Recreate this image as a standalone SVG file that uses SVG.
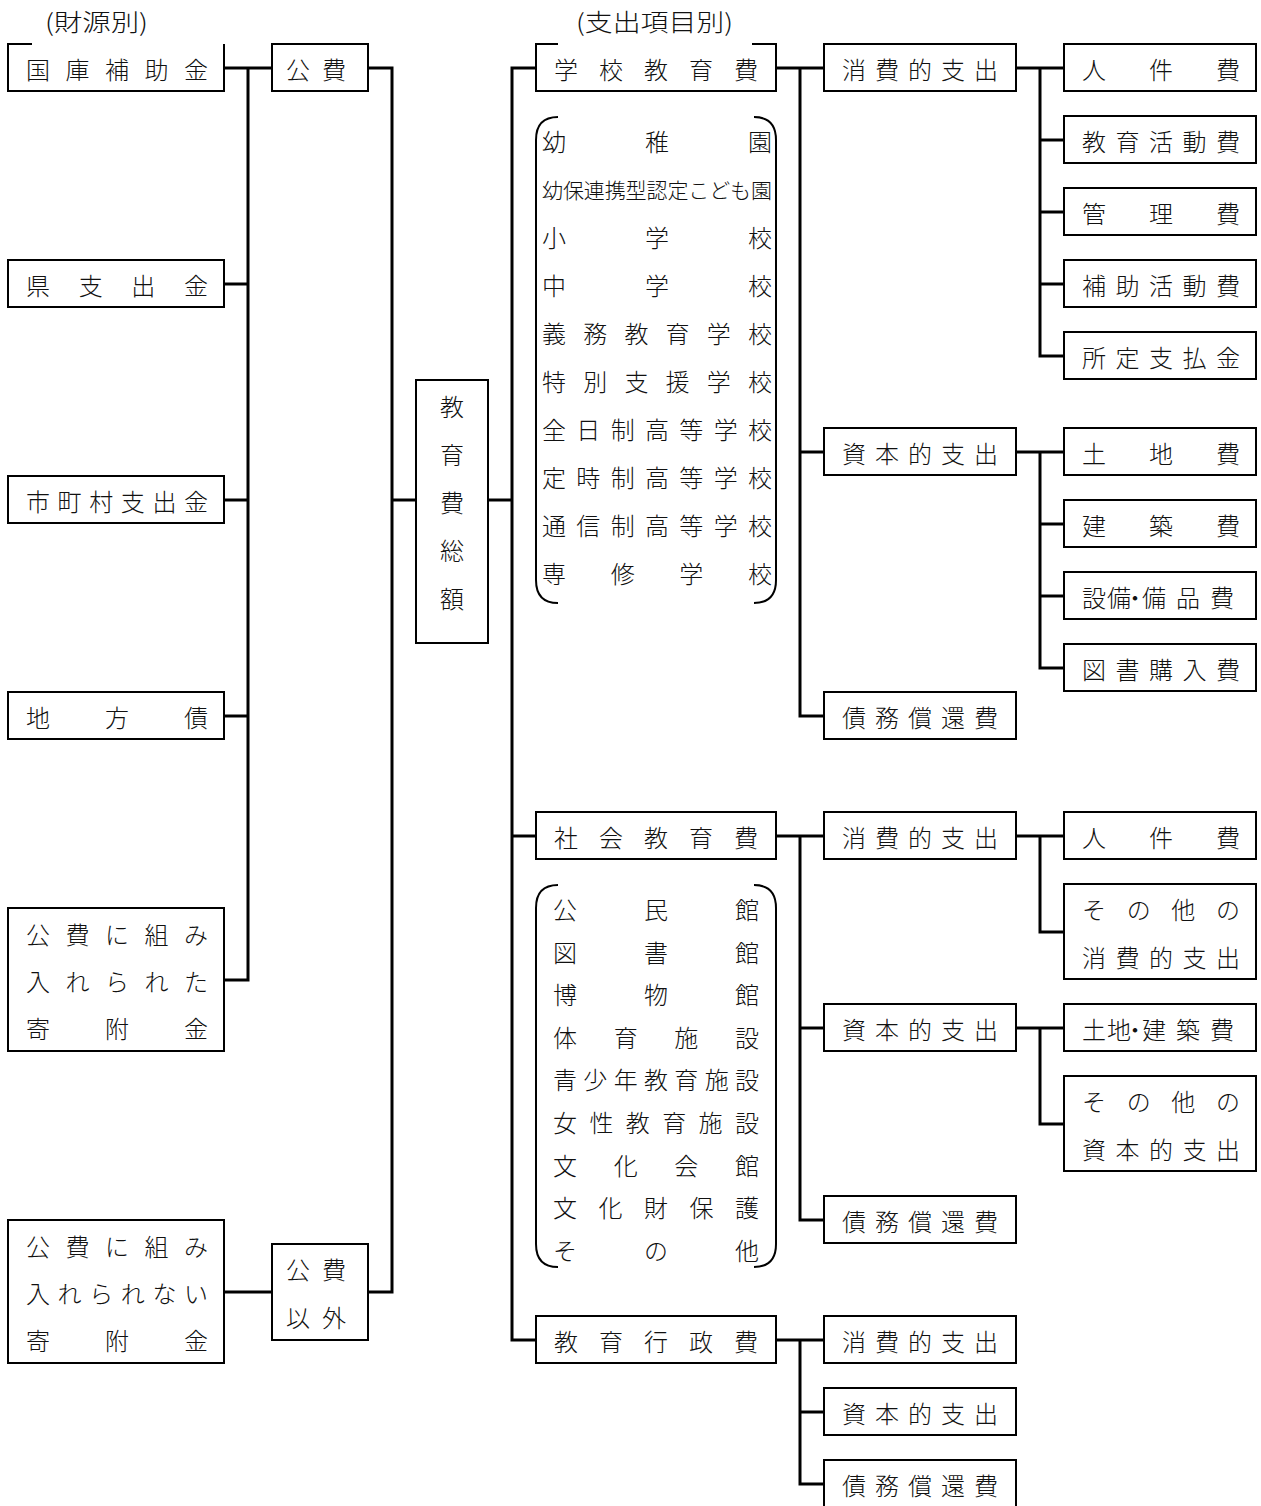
<svg xmlns="http://www.w3.org/2000/svg" width="1261" height="1506" viewBox="0 0 1261 1506">
<style>
  text { font-family: "Noto Sans CJK JP", "Noto Sans CJK SC", sans-serif; font-size: 24px; font-weight: 300; fill: #111; }
  .box { fill: #fff; stroke: #000; stroke-width: 2; }
  .open { fill: none; stroke: #000; stroke-width: 2; }
  .conn path { fill: none; stroke: #000; stroke-width: 3; stroke-linejoin: miter; }
  .small { font-size: 21px; }
</style>
<rect width="1261" height="1506" fill="#fff"/>

<g class="conn" id="connectors">
  <path d="M224,68 H272"/>
  <path d="M248,68 V980 H224"/>
  <path d="M224,284 H248"/>
  <path d="M224,500 H248"/>
  <path d="M224,716 H248"/>
  <path d="M368,68 H392 V1292 H368"/>
  <path d="M224,1292 H272"/>
  <path d="M392,500 H416"/>
  <path d="M488,500 H512"/>
  <path d="M536,68 H512 V1340 H536"/>
  <path d="M512,836 H536"/>
  <path d="M776,68 H824"/>
  <path d="M800,68 V716 H824"/>
  <path d="M800,452 H824"/>
  <path d="M1016,68 H1064"/>
  <path d="M1040,68 V356 H1064"/>
  <path d="M1040,140 H1064"/>
  <path d="M1040,212 H1064"/>
  <path d="M1040,284 H1064"/>
  <path d="M1016,452 H1064"/>
  <path d="M1040,452 V668 H1064"/>
  <path d="M1040,524 H1064"/>
  <path d="M1040,596 H1064"/>
  <path d="M776,836 H824"/>
  <path d="M800,836 V1220 H824"/>
  <path d="M800,1028 H824"/>
  <path d="M1016,836 H1064"/>
  <path d="M1040,836 V932 H1064"/>
  <path d="M1016,1028 H1064"/>
  <path d="M1040,1028 V1124 H1064"/>
  <path d="M776,1340 H824"/>
  <path d="M800,1340 V1484 H824"/>
  <path d="M800,1412 H824"/>
</g>

<g id="headers">
  <text x="45" y="31" textLength="103" lengthAdjust="spacingAndGlyphs">(財源別)</text>
  <text x="576" y="31" textLength="157" lengthAdjust="spacingAndGlyphs">(支出項目別)</text>
</g>

<!-- Left column: sources -->
<g id="n-kokko">
  <path class="open" d="M32,44 H8 V91 H224 V44"/>
  <text x="26 65.5 105 144.5 184" y="79">国庫補助金</text>
</g>
<g id="n-ken">
  <rect class="box" x="8" y="260" width="216" height="47"/>
  <text x="26 78.7 131.3 184" y="295">県支出金</text>
</g>
<g id="n-shichoson">
  <rect class="box" x="8" y="476" width="216" height="47"/>
  <text x="26 57.6 89.2 120.8 152.4 184" y="511">市町村支出金</text>
</g>
<g id="n-chihosai">
  <rect class="box" x="8" y="692" width="216" height="47"/>
  <text x="26 105 184" y="727">地方債</text>
</g>
<g id="n-kifu1">
  <rect class="box" x="8" y="908" width="216" height="143"/>
  <text x="26 65.5 105 144.5 184" y="944">公費に組み</text>
  <text x="26 65.5 105 144.5 184" y="991">入れられた</text>
  <text x="26 105 184" y="1038">寄附金</text>
</g>
<g id="n-kifu2">
  <rect class="box" x="8" y="1220" width="216" height="143"/>
  <text x="26 65.5 105 144.5 184" y="1256">公費に組み</text>
  <text x="26 57.6 89.2 120.8 152.4 184" y="1303">入れられない</text>
  <text x="26 105 184" y="1350">寄附金</text>
</g>

<g id="n-kohi">
  <rect class="box" x="272" y="44" width="96" height="47"/>
  <text x="286 322" y="79">公費</text>
</g>
<g id="n-kohiigai">
  <rect class="box" x="272" y="1244" width="96" height="96"/>
  <text x="286 322" y="1279">公費</text>
  <text x="286 322" y="1327">以外</text>
</g>

<g id="n-total">
  <rect class="box" x="416" y="380" width="72" height="263"/>
  <text x="452" y="416" text-anchor="middle">教</text>
  <text x="452" y="464" text-anchor="middle">育</text>
  <text x="452" y="512" text-anchor="middle">費</text>
  <text x="452" y="560" text-anchor="middle">総</text>
  <text x="452" y="608" text-anchor="middle">額</text>
</g>

<!-- Categories -->
<g id="n-gakko">
  <path class="open" d="M558,44 H536 V91 H776 V44 H752"/>
  <text x="554 599 644 689 734" y="79">学校教育費</text>
</g>
<g id="n-gakko-list">
  <path class="open" d="M558,117 Q536,117 536,140 V580 Q536,603 558,603"/>
  <path class="open" d="M754,117 Q776,117 776,140 V580 Q776,603 754,603"/>
  <text x="542 645 748" y="151">幼稚園</text>
  <text class="small" x="542 562.9 583.8 604.7 625.6 646.5 667.4 688.3 709.2 730.1 751" y="198">幼保連携型認定こども園</text>
  <text x="542 645 748" y="247">小学校</text>
  <text x="542 645 748" y="295">中学校</text>
  <text x="542 583.2 624.4 665.6 706.8 748" y="343">義務教育学校</text>
  <text x="542 583.2 624.4 665.6 706.8 748" y="391">特別支援学校</text>
  <text x="542 576.3 610.7 645 679.3 713.7 748" y="439">全日制高等学校</text>
  <text x="542 576.3 610.7 645 679.3 713.7 748" y="487">定時制高等学校</text>
  <text x="542 576.3 610.7 645 679.3 713.7 748" y="535">通信制高等学校</text>
  <text x="542 610.7 679.3 748" y="583">専修学校</text>
</g>

<g id="n-shakai">
  <rect class="box" x="536" y="812" width="240" height="47"/>
  <text x="554 599 644 689 734" y="847">社会教育費</text>
</g>
<g id="n-shakai-list">
  <path class="open" d="M558,885 Q536,885 536,908 V1244 Q536,1267 558,1267"/>
  <path class="open" d="M754,885 Q776,885 776,908 V1244 Q776,1267 754,1267"/>
  <text x="553 644 735" y="919">公民館</text>
  <text x="553 644 735" y="962">図書館</text>
  <text x="553 644 735" y="1004">博物館</text>
  <text x="553 613.7 674.3 735" y="1047">体育施設</text>
  <text x="553 583.3 613.7 644 674.3 704.7 735" y="1089">青少年教育施設</text>
  <text x="553 589.4 625.8 662.2 698.6 735" y="1132">女性教育施設</text>
  <text x="553 613.7 674.3 735" y="1175">文化会館</text>
  <text x="553 598.5 644 689.5 735" y="1217">文化財保護</text>
  <text x="553 644 735" y="1260">その他</text>
</g>

<g id="n-gyosei">
  <rect class="box" x="536" y="1316" width="240" height="47"/>
  <text x="554 599 644 689 734" y="1351">教育行政費</text>
</g>

<!-- Middle column -->
<g id="n-g-shohi">
  <rect class="box" x="824" y="44" width="192" height="47"/>
  <text x="842 875 908 941 974" y="79">消費的支出</text>
</g>
<g id="n-g-shihon">
  <rect class="box" x="824" y="428" width="192" height="47"/>
  <text x="842 875 908 941 974" y="463">資本的支出</text>
</g>
<g id="n-g-saimu">
  <rect class="box" x="824" y="692" width="192" height="47"/>
  <text x="842 875 908 941 974" y="727">債務償還費</text>
</g>
<g id="n-s-shohi">
  <rect class="box" x="824" y="812" width="192" height="47"/>
  <text x="842 875 908 941 974" y="847">消費的支出</text>
</g>
<g id="n-s-shihon">
  <rect class="box" x="824" y="1004" width="192" height="47"/>
  <text x="842 875 908 941 974" y="1039">資本的支出</text>
</g>
<g id="n-s-saimu">
  <rect class="box" x="824" y="1196" width="192" height="47"/>
  <text x="842 875 908 941 974" y="1231">債務償還費</text>
</g>
<g id="n-y-shohi">
  <rect class="box" x="824" y="1316" width="192" height="47"/>
  <text x="842 875 908 941 974" y="1351">消費的支出</text>
</g>
<g id="n-y-shihon">
  <rect class="box" x="824" y="1388" width="192" height="47"/>
  <text x="842 875 908 941 974" y="1423">資本的支出</text>
</g>
<g id="n-y-saimu">
  <rect class="box" x="824" y="1460" width="192" height="60"/>
  <text x="842 875 908 941 974" y="1495">債務償還費</text>
</g>

<!-- Right column -->
<g id="n-jinken1">
  <rect class="box" x="1064" y="44" width="192" height="47"/>
  <text x="1082 1149 1216" y="79">人件費</text>
</g>
<g id="n-kyoiku-katsudo">
  <rect class="box" x="1064" y="116" width="192" height="47"/>
  <text x="1082 1115.5 1149 1182.5 1216" y="151">教育活動費</text>
</g>
<g id="n-kanri">
  <rect class="box" x="1064" y="188" width="192" height="47"/>
  <text x="1082 1149 1216" y="223">管理費</text>
</g>
<g id="n-hojo">
  <rect class="box" x="1064" y="260" width="192" height="47"/>
  <text x="1082 1115.5 1149 1182.5 1216" y="295">補助活動費</text>
</g>
<g id="n-shotei">
  <rect class="box" x="1064" y="332" width="192" height="47"/>
  <text x="1082 1115.5 1149 1182.5 1216" y="367">所定支払金</text>
</g>
<g id="n-tochi">
  <rect class="box" x="1064" y="428" width="192" height="47"/>
  <text x="1082 1149 1216" y="463">土地費</text>
</g>
<g id="n-kenchiku">
  <rect class="box" x="1064" y="500" width="192" height="47"/>
  <text x="1082 1149 1216" y="535">建築費</text>
</g>
<g id="n-setsubi">
  <rect class="box" x="1064" y="572" width="192" height="47"/>
  <text x="1082 1107 1123 1142 1176 1210" y="607">設備・備品費</text>
</g>
<g id="n-tosho">
  <rect class="box" x="1064" y="644" width="192" height="47"/>
  <text x="1082 1115.5 1149 1182.5 1216" y="679">図書購入費</text>
</g>
<g id="n-jinken2">
  <rect class="box" x="1064" y="812" width="192" height="47"/>
  <text x="1082 1149 1216" y="847">人件費</text>
</g>
<g id="n-sonota-shohi">
  <rect class="box" x="1064" y="884" width="192" height="95"/>
  <text x="1082 1126.7 1171.3 1216" y="919">その他の</text>
  <text x="1082 1115.5 1149 1182.5 1216" y="967">消費的支出</text>
</g>
<g id="n-tochi-kenchiku">
  <rect class="box" x="1064" y="1004" width="192" height="47"/>
  <text x="1082 1107 1123 1142 1176 1210" y="1039">土地・建築費</text>
</g>
<g id="n-sonota-shihon">
  <rect class="box" x="1064" y="1076" width="192" height="95"/>
  <text x="1082 1126.7 1171.3 1216" y="1111">その他の</text>
  <text x="1082 1115.5 1149 1182.5 1216" y="1159">資本的支出</text>
</g>
</svg>
